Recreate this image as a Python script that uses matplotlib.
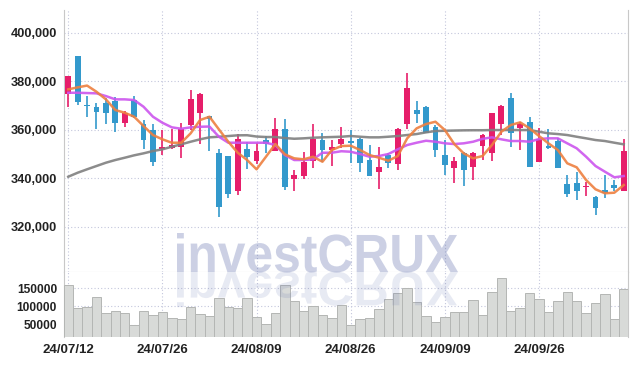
import matplotlib
matplotlib.use("Agg")
import matplotlib.pyplot as plt
from matplotlib.textpath import TextPath
from matplotlib.patches import PathPatch
from matplotlib.font_manager import FontProperties
from matplotlib.transforms import Affine2D
import numpy as np

# daily candles (60 trading days)
opens = [374590, 390390, 370300, 369520, 371130, 371960, 362890, 372250, 362350, 359870,
         351910, 352570, 352990, 361940, 366810, 365480, 350550, 349150, 334840, 351910,
         347210, 355750, 351330, 360160, 339600, 341070, 347210, 355750, 351630, 354100,
         355540, 356040, 347500, 342390, 349560, 345740, 362350, 368160, 369520, 361230,
         349560, 344090, 350550, 344780, 353270, 350260, 362350, 372940, 360570, 363300,
         346800, 353270, 355340, 337600, 338140, 336220, 332240, 335130, 337190, 334840]
highs = [382140, 390390, 373900, 370890, 372940, 373500, 367700, 373900, 364000, 362350,
         359870, 360160, 362640, 376370, 375130, 365770, 351950, 349150, 358220, 354760,
         354390, 357400, 364700, 364290, 343400, 350950, 362350, 358510, 355750, 360990,
         359870, 356500, 353690, 352990, 350260, 360570, 383550, 371960, 369800, 361940,
         355750, 348860, 350960, 350960, 358220, 367000, 370190, 375010, 363300, 365110,
         360820, 360160, 356560, 341320, 342550, 338550, 332500, 341320, 339250, 356040]
lows = [369230, 370060, 365110, 360160, 362260, 359050, 361230, 365000, 351910, 345030,
        349560, 351910, 348200, 359870, 354100, 351200, 323870, 331710, 332940, 343670,
        345860, 350390, 351330, 335130, 334840, 339600, 344090, 346800, 345030, 352320,
        346260, 342390, 340910, 335410, 344090, 343510, 360160, 362640, 358780, 348860,
        341320, 337890, 336780, 339310, 347500, 347090, 357810, 352990, 351630, 344740,
        346800, 352200, 344330, 332240, 331000, 332790, 324820, 331710, 334840, 334840]
closes = [382140, 371540, 369900, 367300, 367000, 362890, 367050, 365360, 355750, 346800,
          352990, 353690, 360160, 372540, 374720, 364410, 328030, 333480, 356040, 348860,
          351200, 354100, 360160, 336490, 341320, 346800, 356040, 351630, 352990, 356040,
          354510, 346390, 340910, 344610, 346390, 360160, 377070, 366600, 358780, 351630,
          345440, 347210, 343220, 350550, 357810, 366760, 369800, 358780, 362350, 344740,
          356040, 352570, 344330, 333480, 334840, 336780, 327700, 334020, 336080, 351200]

# moving averages as drawn
ma_short = [376660, 377480, 378220, 375670, 372530, 368120, 367010, 365360, 361520, 357810,
            356040, 354640, 354640, 358510, 364000, 365360, 360160, 355050, 350510, 347500,
            343670, 348860, 354100, 349850, 348200, 347790, 348860, 346800, 351630, 353270,
            353400, 351630, 349560, 348450, 347210, 349150, 356450, 360570, 362350, 363300,
            359870, 354100, 350260, 348200, 349150, 353690, 359170, 361940, 363050, 360570,
            357400, 354390, 351630, 346140, 344490, 339250, 335420, 333770, 334020, 337190]
ma_mid = [375260, 375260, 375130, 375010, 373890, 372530, 372530, 372250, 369480, 365360,
          362880, 360990, 360410, 360990, 361230, 361320, 357110, 354640, 354640, 354640,
          354640, 354640, 353690, 349560, 347500, 347500, 347790, 350510, 350510, 351130,
          350920, 349980, 348860, 349150, 349980, 351910, 353690, 354640, 355460, 355050,
          354390, 354100, 354390, 355050, 356240, 356860, 356040, 355340, 355340, 355050,
          356160, 356450, 356450, 354390, 352330, 348860, 345030, 342680, 340370, 340900]
ma_long = [340610, 342260, 343670, 345030, 346390, 347500, 348450, 349440, 350260, 351210,
           351910, 352990, 353980, 355050, 356040, 356860, 357110, 357400, 357690, 357730,
           357190, 356990, 356990, 356570, 356280, 356450, 356700, 356860, 356990, 357110,
           357400, 357110, 356860, 356860, 357110, 357400, 357810, 358220, 358920, 359460,
           359580, 359670, 359750, 359790, 359790, 359870, 359870, 359870, 359870, 359870,
           359180, 358510, 358220, 357810, 357110, 356450, 355750, 355340, 354640, 353970]

volume = [158100, 95100, 97800, 124900, 81600, 88700, 81600, 50000, 88700, 77000,
          85900, 68100, 65400, 97800, 78900, 74300, 122200, 97800, 95100, 122200,
          70800, 52700, 81600, 158100, 115700, 88700, 101300, 77000, 68100, 104000,
          50000, 65400, 68100, 92400, 119500, 135700, 149200, 111300, 74300, 58900,
          70800, 84300, 84300, 117600, 77000, 138400, 176200, 87800, 95100, 135700,
          119500, 84300, 114900, 138400, 114900, 81600, 108600, 133000, 65400, 146500]

date_labels = ['24/07/12', '24/07/26', '24/08/09', '24/08/26', '24/09/09', '24/09/26']
price_ticks = [320000, 340000, 360000, 380000, 400000]
vol_ticks = [50000, 100000, 150000]

tick_fp = FontProperties(family=['Liberation Sans', 'DejaVu Sans'], weight='bold')

W, H = 637, 366
fig = plt.figure(figsize=(W / 100, H / 100), dpi=100)
ax = fig.add_axes([64 / W, 1 - 272 / H, 564 / W, 262 / H])
axv = fig.add_axes([64 / W, 1 - 337 / H, 564 / W, 65 / H], sharex=ax)

x = np.arange(len(opens))
o = np.array(opens)
c = np.array(closes)
up = c >= o
red, blue = '#e61e6a', '#3399cc'
colors = np.where(up, red, blue)

ax.vlines(x, lows, highs, colors=colors, lw=1.2, zorder=3)
body = np.maximum(np.abs(c - o), 500)
ax.bar(x, body, bottom=np.minimum(o, c), width=0.62, color=colors, zorder=4)

ax.plot(x, ma_long, color='#808080', lw=1.8, alpha=0.9, zorder=5)
ax.plot(x, ma_mid, color='#cc55ee', lw=1.8, alpha=0.9, zorder=5)
ax.plot(x, ma_short, color='#ee8040', lw=1.8, alpha=0.9, zorder=6)

ax.set_xlim(-0.45, 59.45)
ax.set_ylim(301300, 409400)
ax.set_yticks(price_ticks)
ax.set_yticklabels([f'{v:,}' for v in price_ticks])

axv.bar(x, volume, width=1.0, color='#d8dad8', edgecolor='#b4b6b4', lw=0.7, zorder=3)
axv.set_ylim(17500, 193300)
axv.set_yticks(vol_ticks)
axv.set_yticklabels([str(v) for v in vol_ticks])
axv.set_xticks(range(0, 60, 10))
axv.set_xticklabels(date_labels)

grid_kw = dict(color='#c3c6dc', linestyle=(0, (1, 2)), lw=0.8)
for a in (ax, axv):
    a.grid(True, **grid_kw)
    a.set_axisbelow(True)
    a.tick_params(length=0, colors='#222222', pad=5)
    for s in ('left', 'right'):
        a.spines[s].set_color('#c8c8c8')
    a.spines['top'].set_visible(False)
ax.spines['bottom'].set_color('#cccccc')
axv.spines['bottom'].set_visible(False)
ax.tick_params(axis='x', labelbottom=False)
for lbl in ax.get_yticklabels():
    lbl.set_fontproperties(tick_fp)
    lbl.set_fontsize(9.2)
for lbl in axv.get_yticklabels():
    lbl.set_fontproperties(tick_fp)
    lbl.set_fontsize(8.6)
for lbl in axv.get_xticklabels():
    lbl.set_fontproperties(tick_fp)
    lbl.set_fontsize(9.5)

# watermark with reflection
fp = FontProperties(family=['Liberation Sans', 'DejaVu Sans'], weight='bold')
tp = TextPath((0, 0), 'investCRUX', size=1, prop=fp)
bb = tp.get_extents()
sx = 281 / bb.width
sy = 39 / bb.y1
base = Affine2D().translate(-bb.x0, 0)
t_up = base + Affine2D().scale(sx / W, sy / H).translate(177 / W, (H - 272) / H) + fig.transFigure
t_dn = base + Affine2D().scale(sx / W, -sy * 0.9 / H).translate(177 / W, (H - 272) / H) + fig.transFigure
fig.add_artist(PathPatch(tp, transform=t_up, facecolor='#6473af', edgecolor='none', alpha=0.33, zorder=10))
fig.add_artist(PathPatch(tp, transform=t_dn, facecolor='#6473af', edgecolor='none', alpha=0.15, zorder=10))

fig.savefig('out.png', dpi=100)
